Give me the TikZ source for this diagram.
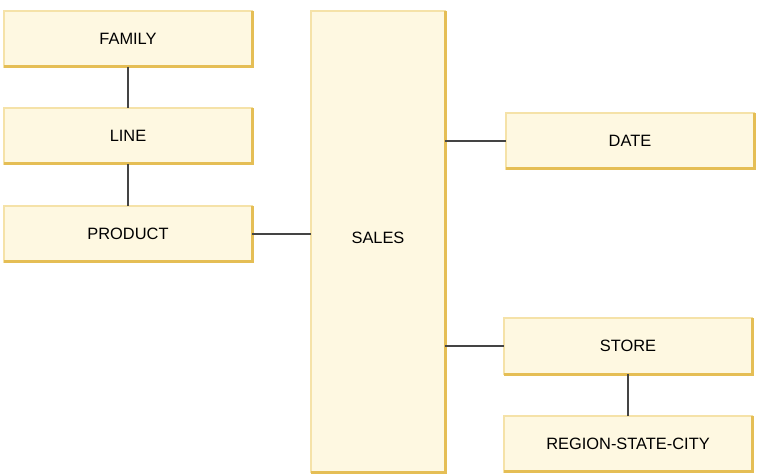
\documentclass[tikz,border=0pt]{standalone}
\usepackage{fontspec}
\setmainfont{Liberation Sans}
\usetikzlibrary{positioning}

\definecolor{boxfill}{HTML}{FEF8E1}
\definecolor{boxlight}{HTML}{F5E2A8}
\definecolor{boxdark}{HTML}{E5BE55}
\definecolor{linkgray}{HTML}{444444}

\tikzset{
  every picture/.style={line width=0.75pt},
  table/.style={draw=boxlight, fill=boxfill, line width=2pt, outer sep=0pt,
    minimum width=248pt, minimum height=56pt, font=\fontsize{16.4}{19}\selectfont},
  edge/.style={draw=boxdark, line width=3pt},
  link/.style={draw=linkgray, line width=1.2pt}
}

\begin{document}
\begin{tikzpicture}[x=1pt,y=1pt,yscale=-1]
\useasboundingbox (0,0) rectangle (764,476);

% dimension tables
\node[table] (family)  at (128,39)  {FAMILY};
\node[table] (line)    at (128,136) {LINE};
\node[table] (product) at (128,234) {PRODUCT};
\node[table] (date)    at (630,141) {DATE};
\node[table] (store)   at (628,346) {STORE};
\node[table] (region)  at (628,443.5) {REGION-STATE-CITY};

% fact table
\node[table, minimum width=134pt, minimum height=461pt] (sales) at (378,241.5) {\raisebox{7pt}{SALES}};

% darker bottom and right edges
\foreach \n in {family,line,product,date,store,region,sales}
  \draw[edge] (\n.north east) -- (\n.south east) -- (\n.south west);

% connectors
\draw[link] (family.south) -- (line.north);
\draw[link] (line.south) -- (product.north);
\draw[link] (product.east) -- (product.east -| sales.west);
\draw[link] (date.west -| sales.east) -- (date.west);
\draw[link] (store.west -| sales.east) -- (store.west);
\draw[link] (store.south -| region.north) -- (region.north);

\end{tikzpicture}
\end{document}
